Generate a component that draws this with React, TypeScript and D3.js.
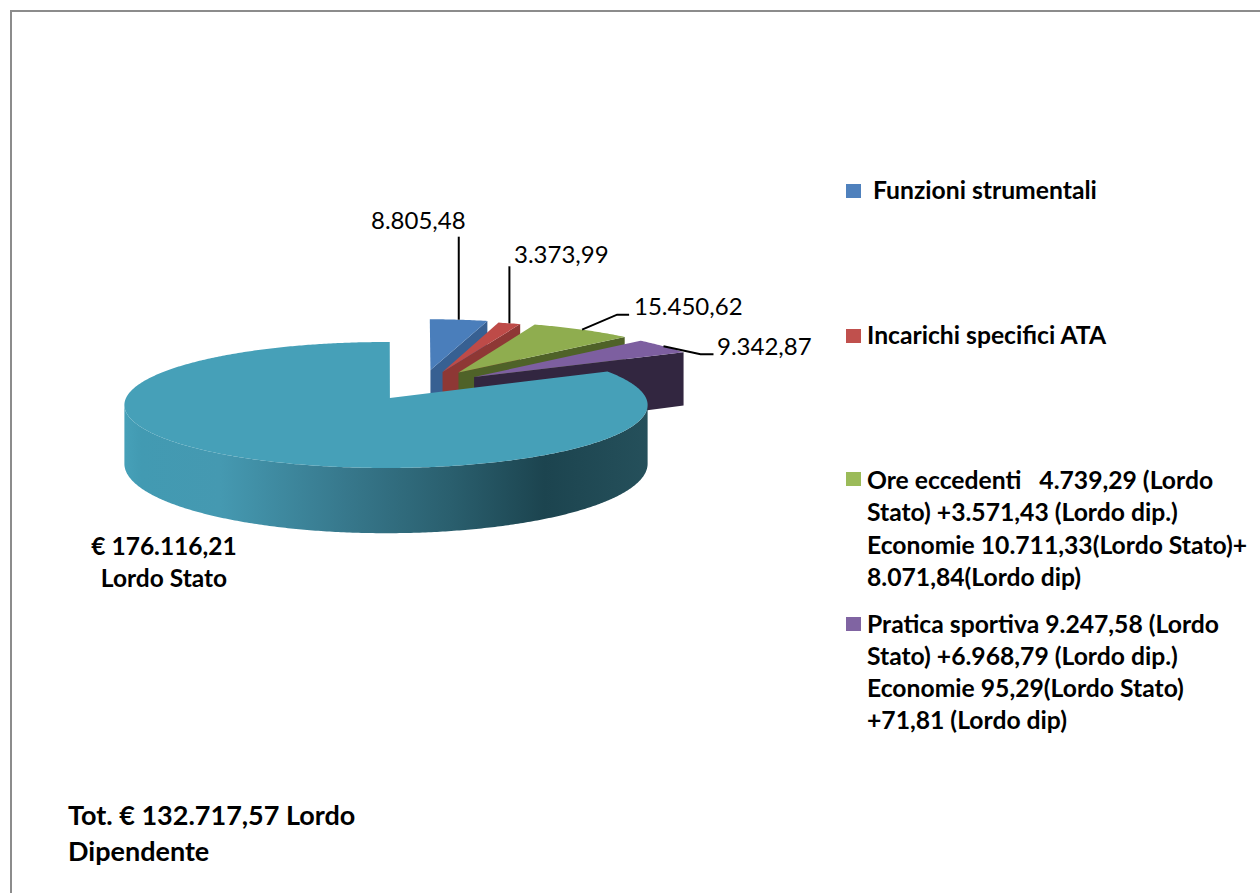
import { useEffect, useRef } from "react";
import * as d3 from "d3";

const categories = [ "Funzioni strumentali", "Incarichi specifici ATA", "Ore eccedenti", "Pratica sportiva", "Lordo Stato" ];
const values = [ 8805.48, 3373.99, 15450.62, 9342.87, 176116.21 ];
const valueLabels = [ "8.805,48", "3.373,99", "15.450,62", "9.342,87" ];
const topColors = [ "#4a7ebb", "#be4b48", "#8fad4f", "#7d5fa0", "#46a0b8" ];
const wallColors = [ "#376092", "#8e3835", "#4f6228", "#322640", "#46a0b8" ];
const legendColors = [ "#4f81bd", "#c0504d", "#9bbb59", "#8064a2" ];

const legendLines = [
    [ " Funzioni strumentali" ],
    [ "Incarichi specifici ATA" ],
    [ "Ore eccedenti   4.739,29 (Lordo", "Stato) +3.571,43 (Lordo dip.)", "Economie 10.711,33(Lordo Stato)+", "8.071,84(Lordo dip)" ],
    [ "Pratica sportiva 9.247,58 (Lordo", "Stato) +6.968,79 (Lordo dip.)", "Economie 95,29(Lordo Stato)", "+71,81 (Lordo dip)" ],
];
const legendBaselines = [ [ 199 ], [ 344 ], [ 489, 521, 554, 586 ], [ 633, 665, 697, 729 ] ];
const legendSwatchY = [ 184, 329, 472, 617 ];

// explode offset of each slice, in units of the pie radius (x, depth)
const explode: [ number, number ][] = [
    [ 0.18, 0.474 ], [ 0.228, 0.438 ], [ 0.292, 0.428 ], [ 0.352, 0.351 ], [ 0, 0 ],
];
// label anchor and leader elbows, relative to the slice's outer mid point
const labelX = [ 371, 514, 634, 717 ];
const labelY = [ 229, 263, 315, 355 ];
const leaders: [ number, number ][][] = [
    [ [ 0, -83 ] ],
    [ [ 0, -57 ] ],
    [ [ 35, -15 ], [ 47, -15 ] ],
    [ [ 37, 8 ], [ 50, 8 ] ],
];

const wallStops: [ number, string ][] = [
    [ 0, "#46a0b8" ], [ 0.03, "#429ab2" ], [ 0.18, "#4599b1" ], [ 0.42, "#37788c" ],
    [ 0.62, "#2a5f6e" ], [ 0.8, "#1c444f" ], [ 1, "#25505b" ],
];

const FONT = "Lato, 'Open Sans', sans-serif";
const cx = 386, cy = 398, rx = 260, ry = 62.2, persp = 0.111, depth = 58;
const rotation = 0.016;
const bigSliceApexU = 0.015;

function project ( u: number, v: number, z = 0 ): [ number, number ]
{
    const s = 1 / ( 1 + persp * v );
    return [ cx + rx * u * s, cy - ry * v * s + z * s ];
}

export default function App ()
{
    const svgRef = useRef<SVGSVGElement>( null );

    useEffect( () =>
    {
        const svg = d3.select( svgRef.current );
        svg.selectAll( "*" ).remove();

        // Frame
        svg.append( "rect" ).attr( "width", 1260 ).attr( "height", 893 ).attr( "fill", "#fff" );
        svg.append( "path" ).attr( "d", d3.line()( [ [ 11, 893 ], [ 11, 11 ], [ 1260, 11 ] ] ) )
            .attr( "fill", "none" ).attr( "stroke", "#8c8c8c" ).attr( "stroke-width", 2 );

        const defs = svg.append( "defs" );
        const grad = defs.append( "linearGradient" ).attr( "id", "tealWall" ).attr( "gradientUnits", "userSpaceOnUse" )
            .attr( "x1", 126 ).attr( "y1", 0 ).attr( "x2", 649 ).attr( "y2", 0 );
        wallStops.forEach( ( [ o, c ] ) => grad.append( "stop" ).attr( "offset", o ).attr( "stop-color", c ) );

        const pie = d3.pie<number>().sort( null ).value( ( d ) => d )
            .startAngle( rotation ).endAngle( 2 * Math.PI + rotation );
        const arcs = pie( values );
        const line = d3.line();
        const last = values.length - 1;

        arcs.forEach( ( a, i ) =>
        {
            const [ ou, ov ] = explode[ i ];
            const g = svg.append( "g" ).attr( "class", "slice" ).datum( categories[ i ] );
            const thetas = [ ...d3.range( a.startAngle, a.endAngle, 0.01 ), a.endAngle ];
            const rim = thetas.map( ( t ) => [ ou + Math.sin( t ), ov + Math.cos( t ) ] as [ number, number ] );
            const apexTop = project( i === last ? bigSliceApexU : ou, ov );

            if ( i === last )
            {
                // Outer wall of the big slice, only the part that faces the viewer
                const front = rim.filter( ( [ , v ] ) => v < -persp );
                const upper = front.map( ( [ u, v ] ) => project( u, v ) );
                const lower = front.map( ( [ u, v ] ) => project( u, v, depth ) ).reverse();
                g.append( "path" ).attr( "d", line( [ ...upper, ...lower ] ) + "Z" ).attr( "fill", "url(#tealWall)" );
            }
            else
            {
                // Cut face at the clockwise end of the slice
                const [ eu, ev ] = rim[ rim.length - 1 ];
                g.append( "path" ).attr( "d", line( [ apexTop, project( eu, ev ), project( eu, ev, depth ), project( ou, ov, depth ) ] ) + "Z" )
                    .attr( "fill", wallColors[ i ] );
            }

            g.append( "path" ).attr( "d", line( [ apexTop, ...rim.map( ( [ u, v ] ) => project( u, v ) ) ] ) + "Z" )
                .attr( "fill", topColors[ i ] );
        } );

        // Data labels and leaders
        valueLabels.forEach( ( label, i ) =>
        {
            const a = arcs[ i ];
            const mid = ( a.startAngle + a.endAngle ) / 2;
            const start = project( explode[ i ][ 0 ] + Math.sin( mid ), explode[ i ][ 1 ] + Math.cos( mid ) );
            const pts = [ start, ...leaders[ i ].map( ( [ dx, dy ] ) => [ start[ 0 ] + dx, start[ 1 ] + dy ] as [ number, number ] ) ];
            svg.append( "path" ).attr( "d", line( pts ) ).attr( "fill", "none" ).attr( "stroke", "#000" ).attr( "stroke-width", 2 );
            svg.append( "text" ).attr( "x", labelX[ i ] ).attr( "y", labelY[ i ] )
                .attr( "font-family", FONT ).attr( "font-size", 24 ).attr( "fill", "#000" ).text( label );
        } );

        // Legend
        legendLines.forEach( ( lines, i ) =>
        {
            svg.append( "rect" ).attr( "x", 846 ).attr( "y", legendSwatchY[ i ] ).attr( "width", 15 ).attr( "height", 14 )
                .attr( "fill", legendColors[ i ] );
            lines.forEach( ( txt, j ) =>
            {
                svg.append( "text" ).attr( "x", 867 ).attr( "y", legendBaselines[ i ][ j ] )
                    .attr( "font-family", FONT ).attr( "font-size", 24.7 ).attr( "font-weight", 700 )
                    .attr( "fill", "#000" ).style( "white-space", "pre" ).text( txt );
            } );
        } );

        // Free text
        const notes: [ string, number, number, string, number ][] = [
            [ "€ 176.116,21", 164, 555, "middle", 24.5 ],
            [ "Lordo Stato", 164, 587, "middle", 24.5 ],
            [ "Tot. € 132.717,57 Lordo", 68, 825, "start", 27 ],
            [ "Dipendente", 68, 861, "start", 27 ],
        ];
        notes.forEach( ( [ txt, x, y, anchor, size ] ) =>
        {
            svg.append( "text" ).attr( "x", x ).attr( "y", y ).attr( "text-anchor", anchor )
                .attr( "font-family", FONT ).attr( "font-size", size ).attr( "font-weight", 700 ).attr( "fill", "#000" ).text( txt );
        } );
    }, [] );

    return <svg ref={ svgRef } width={ 1260 } height={ 893 } style={ { position: "absolute", left: 0, top: 0, display: "block" } } />;
}
